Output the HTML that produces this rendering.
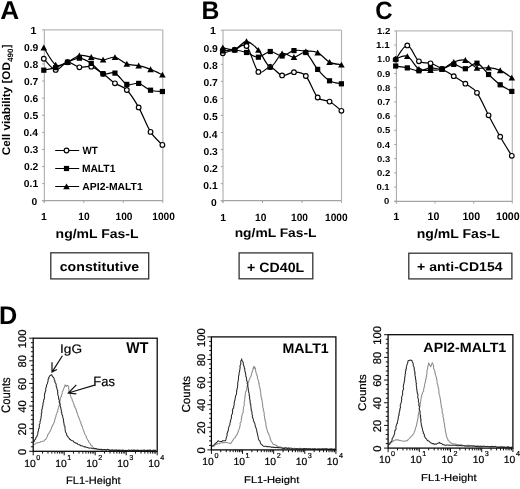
<!DOCTYPE html>
<html><head><meta charset="utf-8"><style>
html,body{margin:0;padding:0;background:#fff;}
svg{display:block;font-family:"Liberation Sans", sans-serif;will-change:transform;text-rendering:geometricPrecision;}
text[font-weight="normal"]{stroke:#000;stroke-width:0.2px;}
text:not([font-weight]){stroke:#000;stroke-width:0.2px;}
</style></head><body>
<svg width="520" height="489" viewBox="0 0 520 489">
<rect width="520" height="489" fill="#fff"/>
<line x1="44.30" y1="29.80" x2="162.80" y2="29.80" stroke="#bababa" stroke-width="1.20"/>
<line x1="162.80" y1="29.80" x2="162.80" y2="200.70" stroke="#b4b4b4" stroke-width="1.20"/>
<line x1="44.30" y1="29.80" x2="44.30" y2="202.90" stroke="#a4a4a4" stroke-width="1.00"/>
<line x1="42.10" y1="200.70" x2="162.80" y2="200.70" stroke="#a4a4a4" stroke-width="1.20"/>
<line x1="42.10" y1="200.70" x2="44.30" y2="200.70" stroke="#a4a4a4" stroke-width="1.00"/>
<line x1="42.10" y1="183.61" x2="44.30" y2="183.61" stroke="#a4a4a4" stroke-width="1.00"/>
<line x1="42.10" y1="166.52" x2="44.30" y2="166.52" stroke="#a4a4a4" stroke-width="1.00"/>
<line x1="42.10" y1="149.43" x2="44.30" y2="149.43" stroke="#a4a4a4" stroke-width="1.00"/>
<line x1="42.10" y1="132.34" x2="44.30" y2="132.34" stroke="#a4a4a4" stroke-width="1.00"/>
<line x1="42.10" y1="115.25" x2="44.30" y2="115.25" stroke="#a4a4a4" stroke-width="1.00"/>
<line x1="42.10" y1="98.16" x2="44.30" y2="98.16" stroke="#a4a4a4" stroke-width="1.00"/>
<line x1="42.10" y1="81.07" x2="44.30" y2="81.07" stroke="#a4a4a4" stroke-width="1.00"/>
<line x1="42.10" y1="63.98" x2="44.30" y2="63.98" stroke="#a4a4a4" stroke-width="1.00"/>
<line x1="42.10" y1="46.89" x2="44.30" y2="46.89" stroke="#a4a4a4" stroke-width="1.00"/>
<line x1="42.10" y1="29.80" x2="44.30" y2="29.80" stroke="#a4a4a4" stroke-width="1.00"/>
<line x1="44.30" y1="200.70" x2="44.30" y2="202.90" stroke="#a4a4a4" stroke-width="1.00"/>
<line x1="83.80" y1="200.70" x2="83.80" y2="202.90" stroke="#a4a4a4" stroke-width="1.00"/>
<line x1="123.30" y1="200.70" x2="123.30" y2="202.90" stroke="#a4a4a4" stroke-width="1.00"/>
<line x1="162.80" y1="200.70" x2="162.80" y2="202.90" stroke="#a4a4a4" stroke-width="1.00"/>
<text transform="translate(31.58 204.55) scale(1.0300 1)" font-size="10.03" font-weight="bold" fill="#000">0</text>
<text transform="translate(23.83 187.46) scale(1.0300 1)" font-size="10.03" font-weight="bold" fill="#000">0.1</text>
<text transform="translate(23.95 170.37) scale(1.0300 1)" font-size="10.03" font-weight="bold" fill="#000">0.2</text>
<text transform="translate(23.94 153.27) scale(1.0300 1)" font-size="10.01" font-weight="bold" fill="#000">0.3</text>
<text transform="translate(23.60 136.19) scale(1.0300 1)" font-size="10.03" font-weight="bold" fill="#000">0.4</text>
<text transform="translate(23.83 119.10) scale(1.0300 1)" font-size="10.03" font-weight="bold" fill="#000">0.5</text>
<text transform="translate(23.91 102.01) scale(1.0300 1)" font-size="10.03" font-weight="bold" fill="#000">0.6</text>
<text transform="translate(24.00 84.92) scale(1.0300 1)" font-size="10.03" font-weight="bold" fill="#000">0.7</text>
<text transform="translate(23.86 67.83) scale(1.0300 1)" font-size="10.03" font-weight="bold" fill="#000">0.8</text>
<text transform="translate(23.92 50.74) scale(1.0300 1)" font-size="10.03" font-weight="bold" fill="#000">0.9</text>
<text transform="translate(30.48 33.75) scale(1.0300 1)" font-size="10.32" font-weight="bold" fill="#000">1</text>
<text transform="translate(41.00 219.60) scale(1.0300 1)" font-size="10.17" font-weight="bold" fill="#000">1</text>
<text transform="translate(78.22 219.50) scale(0.9613 1)" font-size="10.59" font-weight="bold" fill="#000">10</text>
<text transform="translate(115.49 219.50) scale(0.9613 1)" font-size="10.59" font-weight="bold" fill="#000">100</text>
<text transform="translate(152.26 219.50) scale(0.9613 1)" font-size="10.59" font-weight="bold" fill="#000">1000</text>
<path d="M43.80 58.70 C45.78 60.57 51.71 69.32 55.66 69.90 C59.61 70.48 63.57 62.63 67.52 62.20 C71.47 61.77 75.43 66.55 79.38 67.30 C83.33 68.05 87.29 65.62 91.24 66.70 C95.19 67.78 99.15 71.03 103.10 73.80 C107.05 76.57 111.01 80.60 114.96 83.30 C118.91 86.00 122.87 85.98 126.82 90.00 C130.77 94.02 134.73 100.42 138.68 107.40 C142.63 114.38 146.59 125.65 150.54 131.90 C154.49 138.15 160.42 142.73 162.40 144.90" fill="none" stroke="#000" stroke-width="1.2"/>
<path d="M43.80 70.20 C45.78 69.77 51.71 68.93 55.66 67.60 C59.61 66.27 63.57 63.77 67.52 62.20 C71.47 60.63 75.43 58.00 79.38 58.20 C83.33 58.40 87.29 60.80 91.24 63.40 C95.19 66.00 99.15 72.18 103.10 73.80 C107.05 75.42 111.01 71.33 114.96 73.10 C118.91 74.87 122.87 82.68 126.82 84.40 C130.77 86.12 134.73 82.43 138.68 83.40 C142.63 84.37 146.59 88.85 150.54 90.20 C154.49 91.55 160.42 91.28 162.40 91.50" fill="none" stroke="#000" stroke-width="1.2"/>
<path d="M43.80 47.70 C45.78 50.55 51.71 62.38 55.66 64.80 C59.61 67.22 63.57 63.75 67.52 62.20 C71.47 60.65 75.43 56.35 79.38 55.50 C83.33 54.65 87.29 56.38 91.24 57.10 C95.19 57.82 99.15 59.77 103.10 59.80 C107.05 59.83 111.01 56.62 114.96 57.30 C118.91 57.98 122.87 62.50 126.82 63.90 C130.77 65.30 134.73 64.78 138.68 65.70 C142.63 66.62 146.59 67.88 150.54 69.40 C154.49 70.92 160.42 73.90 162.40 74.80" fill="none" stroke="#000" stroke-width="1.2"/>
<circle cx="43.80" cy="58.70" r="2.35" fill="#fff" stroke="#000" stroke-width="1.15"/>
<circle cx="55.66" cy="69.90" r="2.35" fill="#fff" stroke="#000" stroke-width="1.15"/>
<circle cx="67.52" cy="62.20" r="2.35" fill="#fff" stroke="#000" stroke-width="1.15"/>
<circle cx="79.38" cy="67.30" r="2.35" fill="#fff" stroke="#000" stroke-width="1.15"/>
<circle cx="91.24" cy="66.70" r="2.35" fill="#fff" stroke="#000" stroke-width="1.15"/>
<circle cx="103.10" cy="73.80" r="2.35" fill="#fff" stroke="#000" stroke-width="1.15"/>
<circle cx="114.96" cy="83.30" r="2.35" fill="#fff" stroke="#000" stroke-width="1.15"/>
<circle cx="126.82" cy="90.00" r="2.35" fill="#fff" stroke="#000" stroke-width="1.15"/>
<circle cx="138.68" cy="107.40" r="2.35" fill="#fff" stroke="#000" stroke-width="1.15"/>
<circle cx="150.54" cy="131.90" r="2.35" fill="#fff" stroke="#000" stroke-width="1.15"/>
<circle cx="162.40" cy="144.90" r="2.35" fill="#fff" stroke="#000" stroke-width="1.15"/>
<rect x="41.20" y="67.60" width="5.2" height="5.2" fill="#000"/>
<rect x="53.06" y="65.00" width="5.2" height="5.2" fill="#000"/>
<rect x="64.92" y="59.60" width="5.2" height="5.2" fill="#000"/>
<rect x="76.78" y="55.60" width="5.2" height="5.2" fill="#000"/>
<rect x="88.64" y="60.80" width="5.2" height="5.2" fill="#000"/>
<rect x="100.50" y="71.20" width="5.2" height="5.2" fill="#000"/>
<rect x="112.36" y="70.50" width="5.2" height="5.2" fill="#000"/>
<rect x="124.22" y="81.80" width="5.2" height="5.2" fill="#000"/>
<rect x="136.08" y="80.80" width="5.2" height="5.2" fill="#000"/>
<rect x="147.94" y="87.60" width="5.2" height="5.2" fill="#000"/>
<rect x="159.80" y="88.90" width="5.2" height="5.2" fill="#000"/>
<path d="M43.80 44.60 L47.10 50.50 L40.50 50.50 Z" fill="#000"/>
<path d="M55.66 61.70 L58.96 67.60 L52.36 67.60 Z" fill="#000"/>
<path d="M67.52 59.10 L70.82 65.00 L64.22 65.00 Z" fill="#000"/>
<path d="M79.38 52.40 L82.68 58.30 L76.08 58.30 Z" fill="#000"/>
<path d="M91.24 54.00 L94.54 59.90 L87.94 59.90 Z" fill="#000"/>
<path d="M103.10 56.70 L106.40 62.60 L99.80 62.60 Z" fill="#000"/>
<path d="M114.96 54.20 L118.26 60.10 L111.66 60.10 Z" fill="#000"/>
<path d="M126.82 60.80 L130.12 66.70 L123.52 66.70 Z" fill="#000"/>
<path d="M138.68 62.60 L141.98 68.50 L135.38 68.50 Z" fill="#000"/>
<path d="M150.54 66.30 L153.84 72.20 L147.24 72.20 Z" fill="#000"/>
<path d="M162.40 71.70 L165.70 77.60 L159.10 77.60 Z" fill="#000"/>
<text transform="translate(55.58 237.60) scale(1.1031 1)" font-size="12.70" font-weight="bold" fill="#000">ng/mL Fas-L</text>
<rect x="50.80" y="252.80" width="97.90" height="26.10" fill="none" stroke="#333" stroke-width="1.3"/>
<text transform="translate(59.75 271.30) scale(1.1029 1)" font-size="12.83" font-weight="bold" fill="#000">constitutive</text>
<text transform="translate(0.25 18.70) scale(1.0140 1)" font-size="25.87" font-weight="bold" fill="#000">A</text>
<line x1="55.20" y1="150.50" x2="79.20" y2="150.50" stroke="#000" stroke-width="1.00"/>
<circle cx="66.50" cy="150.50" r="2.35" fill="#fff" stroke="#000" stroke-width="1.15"/>
<text transform="translate(82.59 154.10) scale(0.9351 1)" font-size="10.47" font-weight="bold" fill="#000">WT</text>
<line x1="55.20" y1="168.50" x2="79.20" y2="168.50" stroke="#000" stroke-width="1.00"/>
<rect x="63.90" y="165.90" width="5.2" height="5.2" fill="#000"/>
<text transform="translate(81.91 172.10) scale(0.9797 1)" font-size="10.47" font-weight="bold" fill="#000">MALT1</text>
<line x1="55.20" y1="186.50" x2="79.20" y2="186.50" stroke="#000" stroke-width="1.00"/>
<path d="M66.50 183.40 L69.80 189.30 L63.20 189.30 Z" fill="#000"/>
<text transform="translate(82.34 190.10) scale(1.0086 1)" font-size="10.31" font-weight="bold" fill="#000">API2-MALT1</text>
<line x1="223.00" y1="30.20" x2="341.50" y2="30.20" stroke="#bababa" stroke-width="1.20"/>
<line x1="341.50" y1="30.20" x2="341.50" y2="200.70" stroke="#b4b4b4" stroke-width="1.20"/>
<line x1="223.00" y1="30.20" x2="223.00" y2="202.90" stroke="#a4a4a4" stroke-width="1.00"/>
<line x1="220.80" y1="200.70" x2="341.50" y2="200.70" stroke="#a4a4a4" stroke-width="1.20"/>
<line x1="220.80" y1="200.70" x2="223.00" y2="200.70" stroke="#a4a4a4" stroke-width="1.00"/>
<line x1="220.80" y1="183.65" x2="223.00" y2="183.65" stroke="#a4a4a4" stroke-width="1.00"/>
<line x1="220.80" y1="166.60" x2="223.00" y2="166.60" stroke="#a4a4a4" stroke-width="1.00"/>
<line x1="220.80" y1="149.55" x2="223.00" y2="149.55" stroke="#a4a4a4" stroke-width="1.00"/>
<line x1="220.80" y1="132.50" x2="223.00" y2="132.50" stroke="#a4a4a4" stroke-width="1.00"/>
<line x1="220.80" y1="115.45" x2="223.00" y2="115.45" stroke="#a4a4a4" stroke-width="1.00"/>
<line x1="220.80" y1="98.40" x2="223.00" y2="98.40" stroke="#a4a4a4" stroke-width="1.00"/>
<line x1="220.80" y1="81.35" x2="223.00" y2="81.35" stroke="#a4a4a4" stroke-width="1.00"/>
<line x1="220.80" y1="64.30" x2="223.00" y2="64.30" stroke="#a4a4a4" stroke-width="1.00"/>
<line x1="220.80" y1="47.25" x2="223.00" y2="47.25" stroke="#a4a4a4" stroke-width="1.00"/>
<line x1="220.80" y1="30.20" x2="223.00" y2="30.20" stroke="#a4a4a4" stroke-width="1.00"/>
<line x1="223.00" y1="200.70" x2="223.00" y2="202.90" stroke="#a4a4a4" stroke-width="1.00"/>
<line x1="262.50" y1="200.70" x2="262.50" y2="202.90" stroke="#a4a4a4" stroke-width="1.00"/>
<line x1="302.00" y1="200.70" x2="302.00" y2="202.90" stroke="#a4a4a4" stroke-width="1.00"/>
<line x1="341.50" y1="200.70" x2="341.50" y2="202.90" stroke="#a4a4a4" stroke-width="1.00"/>
<text transform="translate(210.88 206.30) scale(1.0300 1)" font-size="10.03" font-weight="bold" fill="#000">0</text>
<text transform="translate(203.33 189.10) scale(1.0300 1)" font-size="10.03" font-weight="bold" fill="#000">0.1</text>
<text transform="translate(203.45 171.90) scale(1.0300 1)" font-size="10.03" font-weight="bold" fill="#000">0.2</text>
<text transform="translate(203.44 154.69) scale(1.0300 1)" font-size="10.01" font-weight="bold" fill="#000">0.3</text>
<text transform="translate(203.10 137.50) scale(1.0300 1)" font-size="10.03" font-weight="bold" fill="#000">0.4</text>
<text transform="translate(203.33 120.30) scale(1.0300 1)" font-size="10.03" font-weight="bold" fill="#000">0.5</text>
<text transform="translate(203.41 103.10) scale(1.0300 1)" font-size="10.03" font-weight="bold" fill="#000">0.6</text>
<text transform="translate(203.50 85.90) scale(1.0300 1)" font-size="10.03" font-weight="bold" fill="#000">0.7</text>
<text transform="translate(203.36 68.70) scale(1.0300 1)" font-size="10.03" font-weight="bold" fill="#000">0.8</text>
<text transform="translate(203.42 51.50) scale(1.0300 1)" font-size="10.03" font-weight="bold" fill="#000">0.9</text>
<text transform="translate(209.98 34.40) scale(1.0300 1)" font-size="10.32" font-weight="bold" fill="#000">1</text>
<text transform="translate(220.30 220.80) scale(1.0300 1)" font-size="10.17" font-weight="bold" fill="#000">1</text>
<text transform="translate(255.12 220.70) scale(0.9613 1)" font-size="10.59" font-weight="bold" fill="#000">10</text>
<text transform="translate(290.99 220.70) scale(0.9613 1)" font-size="10.59" font-weight="bold" fill="#000">100</text>
<text transform="translate(325.06 220.70) scale(0.9613 1)" font-size="10.59" font-weight="bold" fill="#000">1000</text>
<path d="M222.80 53.30 C224.78 52.72 230.71 51.02 234.66 49.80 C238.61 48.58 242.57 42.32 246.52 46.00 C250.47 49.68 254.43 68.40 258.38 71.90 C262.33 75.40 266.29 66.42 270.24 67.00 C274.19 67.58 278.15 74.53 282.10 75.40 C286.05 76.27 290.01 72.10 293.96 72.20 C297.91 72.30 301.87 71.78 305.82 76.00 C309.77 80.22 313.73 93.23 317.68 97.50 C321.63 101.77 325.59 99.38 329.54 101.60 C333.49 103.82 339.42 109.27 341.40 110.80" fill="none" stroke="#000" stroke-width="1.2"/>
<path d="M222.80 51.00 C224.78 50.83 230.71 49.75 234.66 50.00 C238.61 50.25 242.57 51.30 246.52 52.50 C250.47 53.70 254.43 57.37 258.38 57.20 C262.33 57.03 266.29 51.70 270.24 51.50 C274.19 51.30 278.15 56.15 282.10 56.00 C286.05 55.85 290.01 51.18 293.96 50.60 C297.91 50.02 301.87 49.37 305.82 52.50 C309.77 55.63 313.73 64.68 317.68 69.40 C321.63 74.12 325.59 78.40 329.54 80.80 C333.49 83.20 339.42 83.30 341.40 83.80" fill="none" stroke="#000" stroke-width="1.2"/>
<path d="M222.80 47.60 C224.78 47.92 230.71 50.55 234.66 49.50 C238.61 48.45 242.57 41.22 246.52 41.30 C250.47 41.38 254.43 45.77 258.38 50.00 C262.33 54.23 266.29 66.12 270.24 66.70 C274.19 67.28 278.15 55.08 282.10 53.50 C286.05 51.92 290.01 57.53 293.96 57.20 C297.91 56.87 301.87 52.27 305.82 51.50 C309.77 50.73 313.73 50.83 317.68 52.60 C321.63 54.37 325.59 60.07 329.54 62.10 C333.49 64.13 339.42 64.35 341.40 64.80" fill="none" stroke="#000" stroke-width="1.2"/>
<circle cx="222.80" cy="53.30" r="2.35" fill="#fff" stroke="#000" stroke-width="1.15"/>
<circle cx="234.66" cy="49.80" r="2.35" fill="#fff" stroke="#000" stroke-width="1.15"/>
<circle cx="246.52" cy="46.00" r="2.35" fill="#fff" stroke="#000" stroke-width="1.15"/>
<circle cx="258.38" cy="71.90" r="2.35" fill="#fff" stroke="#000" stroke-width="1.15"/>
<circle cx="270.24" cy="67.00" r="2.35" fill="#fff" stroke="#000" stroke-width="1.15"/>
<circle cx="282.10" cy="75.40" r="2.35" fill="#fff" stroke="#000" stroke-width="1.15"/>
<circle cx="293.96" cy="72.20" r="2.35" fill="#fff" stroke="#000" stroke-width="1.15"/>
<circle cx="305.82" cy="76.00" r="2.35" fill="#fff" stroke="#000" stroke-width="1.15"/>
<circle cx="317.68" cy="97.50" r="2.35" fill="#fff" stroke="#000" stroke-width="1.15"/>
<circle cx="329.54" cy="101.60" r="2.35" fill="#fff" stroke="#000" stroke-width="1.15"/>
<circle cx="341.40" cy="110.80" r="2.35" fill="#fff" stroke="#000" stroke-width="1.15"/>
<rect x="220.20" y="48.40" width="5.2" height="5.2" fill="#000"/>
<rect x="232.06" y="47.40" width="5.2" height="5.2" fill="#000"/>
<rect x="243.92" y="49.90" width="5.2" height="5.2" fill="#000"/>
<rect x="255.78" y="54.60" width="5.2" height="5.2" fill="#000"/>
<rect x="267.64" y="48.90" width="5.2" height="5.2" fill="#000"/>
<rect x="279.50" y="53.40" width="5.2" height="5.2" fill="#000"/>
<rect x="291.36" y="48.00" width="5.2" height="5.2" fill="#000"/>
<rect x="303.22" y="49.90" width="5.2" height="5.2" fill="#000"/>
<rect x="315.08" y="66.80" width="5.2" height="5.2" fill="#000"/>
<rect x="326.94" y="78.20" width="5.2" height="5.2" fill="#000"/>
<rect x="338.80" y="81.20" width="5.2" height="5.2" fill="#000"/>
<path d="M222.80 44.50 L226.10 50.40 L219.50 50.40 Z" fill="#000"/>
<path d="M234.66 46.40 L237.96 52.30 L231.36 52.30 Z" fill="#000"/>
<path d="M246.52 38.20 L249.82 44.10 L243.22 44.10 Z" fill="#000"/>
<path d="M258.38 46.90 L261.68 52.80 L255.08 52.80 Z" fill="#000"/>
<path d="M270.24 63.60 L273.54 69.50 L266.94 69.50 Z" fill="#000"/>
<path d="M282.10 50.40 L285.40 56.30 L278.80 56.30 Z" fill="#000"/>
<path d="M293.96 54.10 L297.26 60.00 L290.66 60.00 Z" fill="#000"/>
<path d="M305.82 48.40 L309.12 54.30 L302.52 54.30 Z" fill="#000"/>
<path d="M317.68 49.50 L320.98 55.40 L314.38 55.40 Z" fill="#000"/>
<path d="M329.54 59.00 L332.84 64.90 L326.24 64.90 Z" fill="#000"/>
<path d="M341.40 61.70 L344.70 67.60 L338.10 67.60 Z" fill="#000"/>
<text transform="translate(234.69 237.30) scale(1.1003 1)" font-size="12.56" font-weight="bold" fill="#000">ng/mL Fas-L</text>
<rect x="239.10" y="252.90" width="73.70" height="25.90" fill="none" stroke="#333" stroke-width="1.3"/>
<text transform="translate(247.11 271.50) scale(1.0403 1)" font-size="13.61" font-weight="bold" fill="#000">+ CD40L</text>
<text transform="translate(201.44 18.50) scale(0.9679 1)" font-size="25.58" font-weight="bold" fill="#000">B</text>
<line x1="396.40" y1="30.90" x2="512.30" y2="30.90" stroke="#bababa" stroke-width="1.20"/>
<line x1="512.30" y1="30.90" x2="512.30" y2="201.30" stroke="#b4b4b4" stroke-width="1.20"/>
<line x1="396.40" y1="30.90" x2="396.40" y2="203.50" stroke="#a4a4a4" stroke-width="1.00"/>
<line x1="394.20" y1="201.30" x2="512.30" y2="201.30" stroke="#a4a4a4" stroke-width="1.20"/>
<line x1="394.20" y1="201.30" x2="396.40" y2="201.30" stroke="#a4a4a4" stroke-width="1.00"/>
<line x1="394.20" y1="187.10" x2="396.40" y2="187.10" stroke="#a4a4a4" stroke-width="1.00"/>
<line x1="394.20" y1="172.90" x2="396.40" y2="172.90" stroke="#a4a4a4" stroke-width="1.00"/>
<line x1="394.20" y1="158.70" x2="396.40" y2="158.70" stroke="#a4a4a4" stroke-width="1.00"/>
<line x1="394.20" y1="144.50" x2="396.40" y2="144.50" stroke="#a4a4a4" stroke-width="1.00"/>
<line x1="394.20" y1="130.30" x2="396.40" y2="130.30" stroke="#a4a4a4" stroke-width="1.00"/>
<line x1="394.20" y1="116.10" x2="396.40" y2="116.10" stroke="#a4a4a4" stroke-width="1.00"/>
<line x1="394.20" y1="101.90" x2="396.40" y2="101.90" stroke="#a4a4a4" stroke-width="1.00"/>
<line x1="394.20" y1="87.70" x2="396.40" y2="87.70" stroke="#a4a4a4" stroke-width="1.00"/>
<line x1="394.20" y1="73.50" x2="396.40" y2="73.50" stroke="#a4a4a4" stroke-width="1.00"/>
<line x1="394.20" y1="59.30" x2="396.40" y2="59.30" stroke="#a4a4a4" stroke-width="1.00"/>
<line x1="394.20" y1="45.10" x2="396.40" y2="45.10" stroke="#a4a4a4" stroke-width="1.00"/>
<line x1="394.20" y1="30.90" x2="396.40" y2="30.90" stroke="#a4a4a4" stroke-width="1.00"/>
<line x1="396.40" y1="201.30" x2="396.40" y2="203.50" stroke="#a4a4a4" stroke-width="1.00"/>
<line x1="435.03" y1="201.30" x2="435.03" y2="203.50" stroke="#a4a4a4" stroke-width="1.00"/>
<line x1="473.67" y1="201.30" x2="473.67" y2="203.50" stroke="#a4a4a4" stroke-width="1.00"/>
<line x1="512.30" y1="201.30" x2="512.30" y2="203.50" stroke="#a4a4a4" stroke-width="1.00"/>
<text transform="translate(384.12 204.47) scale(1.1000 1)" font-size="8.62" font-weight="bold" fill="#000">0</text>
<text transform="translate(376.39 190.27) scale(1.1000 1)" font-size="8.62" font-weight="bold" fill="#000">0.1</text>
<text transform="translate(377.10 176.07) scale(1.1000 1)" font-size="8.62" font-weight="bold" fill="#000">0.2</text>
<text transform="translate(377.09 161.85) scale(1.1000 1)" font-size="8.60" font-weight="bold" fill="#000">0.3</text>
<text transform="translate(376.78 147.67) scale(1.1000 1)" font-size="8.62" font-weight="bold" fill="#000">0.4</text>
<text transform="translate(376.99 133.47) scale(1.1000 1)" font-size="8.62" font-weight="bold" fill="#000">0.5</text>
<text transform="translate(377.07 119.27) scale(1.1000 1)" font-size="8.62" font-weight="bold" fill="#000">0.6</text>
<text transform="translate(377.14 105.07) scale(1.1000 1)" font-size="8.62" font-weight="bold" fill="#000">0.7</text>
<text transform="translate(377.02 90.87) scale(1.1000 1)" font-size="8.62" font-weight="bold" fill="#000">0.8</text>
<text transform="translate(377.08 76.67) scale(1.1000 1)" font-size="8.62" font-weight="bold" fill="#000">0.9</text>
<text transform="translate(377.11 62.47) scale(1.1000 1)" font-size="8.62" font-weight="bold" fill="#000">1.0</text>
<text transform="translate(376.01 48.35) scale(1.1000 1)" font-size="8.87" font-weight="bold" fill="#000">1.1</text>
<text transform="translate(376.93 34.15) scale(1.1000 1)" font-size="8.74" font-weight="bold" fill="#000">1.2</text>
<text transform="translate(393.37 219.90) scale(1.0300 1)" font-size="10.61" font-weight="bold" fill="#000">1</text>
<text transform="translate(427.58 219.79) scale(0.9640 1)" font-size="11.02" font-weight="bold" fill="#000">10</text>
<text transform="translate(462.42 219.79) scale(0.9640 1)" font-size="11.02" font-weight="bold" fill="#000">100</text>
<text transform="translate(495.97 219.79) scale(0.9640 1)" font-size="11.02" font-weight="bold" fill="#000">1000</text>
<path d="M395.70 59.50 C397.63 57.15 403.44 45.10 407.31 45.40 C411.18 45.70 415.05 58.32 418.92 61.30 C422.79 64.28 426.66 62.02 430.53 63.30 C434.40 64.58 438.27 66.85 442.14 69.00 C446.01 71.15 449.88 73.75 453.75 76.20 C457.62 78.65 461.49 80.93 465.36 83.70 C469.23 86.47 473.10 87.53 476.97 92.80 C480.84 98.07 484.71 107.98 488.58 115.30 C492.45 122.62 496.32 129.95 500.19 136.70 C504.06 143.45 509.87 152.62 511.80 155.80" fill="none" stroke="#000" stroke-width="1.2"/>
<path d="M395.70 66.00 C397.63 66.32 403.44 67.10 407.31 67.90 C411.18 68.70 415.05 70.80 418.92 70.80 C422.79 70.80 426.66 68.20 430.53 67.90 C434.40 67.60 438.27 69.58 442.14 69.00 C446.01 68.42 449.88 64.45 453.75 64.40 C457.62 64.35 461.49 68.90 465.36 68.70 C469.23 68.50 473.10 62.23 476.97 63.20 C480.84 64.17 484.71 70.90 488.58 74.50 C492.45 78.10 496.32 81.98 500.19 84.80 C504.06 87.62 509.87 90.30 511.80 91.40" fill="none" stroke="#000" stroke-width="1.2"/>
<path d="M395.70 58.80 C397.63 58.38 403.44 54.60 407.31 56.30 C411.18 58.00 415.05 66.68 418.92 69.00 C422.79 71.32 426.66 70.20 430.53 70.20 C434.40 70.20 438.27 70.37 442.14 69.00 C446.01 67.63 449.88 63.48 453.75 62.00 C457.62 60.52 461.49 59.10 465.36 60.10 C469.23 61.10 473.10 66.75 476.97 68.00 C480.84 69.25 484.71 67.20 488.58 67.60 C492.45 68.00 496.32 68.70 500.19 70.40 C504.06 72.10 509.87 76.57 511.80 77.80" fill="none" stroke="#000" stroke-width="1.2"/>
<circle cx="395.70" cy="59.50" r="2.35" fill="#fff" stroke="#000" stroke-width="1.15"/>
<circle cx="407.31" cy="45.40" r="2.35" fill="#fff" stroke="#000" stroke-width="1.15"/>
<circle cx="418.92" cy="61.30" r="2.35" fill="#fff" stroke="#000" stroke-width="1.15"/>
<circle cx="430.53" cy="63.30" r="2.35" fill="#fff" stroke="#000" stroke-width="1.15"/>
<circle cx="442.14" cy="69.00" r="2.35" fill="#fff" stroke="#000" stroke-width="1.15"/>
<circle cx="453.75" cy="76.20" r="2.35" fill="#fff" stroke="#000" stroke-width="1.15"/>
<circle cx="465.36" cy="83.70" r="2.35" fill="#fff" stroke="#000" stroke-width="1.15"/>
<circle cx="476.97" cy="92.80" r="2.35" fill="#fff" stroke="#000" stroke-width="1.15"/>
<circle cx="488.58" cy="115.30" r="2.35" fill="#fff" stroke="#000" stroke-width="1.15"/>
<circle cx="500.19" cy="136.70" r="2.35" fill="#fff" stroke="#000" stroke-width="1.15"/>
<circle cx="511.80" cy="155.80" r="2.35" fill="#fff" stroke="#000" stroke-width="1.15"/>
<rect x="393.10" y="63.40" width="5.2" height="5.2" fill="#000"/>
<rect x="404.71" y="65.30" width="5.2" height="5.2" fill="#000"/>
<rect x="416.32" y="68.20" width="5.2" height="5.2" fill="#000"/>
<rect x="427.93" y="65.30" width="5.2" height="5.2" fill="#000"/>
<rect x="439.54" y="66.40" width="5.2" height="5.2" fill="#000"/>
<rect x="451.15" y="61.80" width="5.2" height="5.2" fill="#000"/>
<rect x="462.76" y="66.10" width="5.2" height="5.2" fill="#000"/>
<rect x="474.37" y="60.60" width="5.2" height="5.2" fill="#000"/>
<rect x="485.98" y="71.90" width="5.2" height="5.2" fill="#000"/>
<rect x="497.59" y="82.20" width="5.2" height="5.2" fill="#000"/>
<rect x="509.20" y="88.80" width="5.2" height="5.2" fill="#000"/>
<path d="M395.70 55.70 L399.00 61.60 L392.40 61.60 Z" fill="#000"/>
<path d="M407.31 53.20 L410.61 59.10 L404.01 59.10 Z" fill="#000"/>
<path d="M418.92 65.90 L422.22 71.80 L415.62 71.80 Z" fill="#000"/>
<path d="M430.53 67.10 L433.83 73.00 L427.23 73.00 Z" fill="#000"/>
<path d="M442.14 65.90 L445.44 71.80 L438.84 71.80 Z" fill="#000"/>
<path d="M453.75 58.90 L457.05 64.80 L450.45 64.80 Z" fill="#000"/>
<path d="M465.36 57.00 L468.66 62.90 L462.06 62.90 Z" fill="#000"/>
<path d="M476.97 64.90 L480.27 70.80 L473.67 70.80 Z" fill="#000"/>
<path d="M488.58 64.50 L491.88 70.40 L485.28 70.40 Z" fill="#000"/>
<path d="M500.19 67.30 L503.49 73.20 L496.89 73.20 Z" fill="#000"/>
<path d="M511.80 74.70 L515.10 80.60 L508.50 80.60 Z" fill="#000"/>
<text transform="translate(416.77 237.50) scale(1.0939 1)" font-size="12.83" font-weight="bold" fill="#000">ng/mL Fas-L</text>
<rect x="408.80" y="253.20" width="103.10" height="25.70" fill="none" stroke="#333" stroke-width="1.3"/>
<text transform="translate(417.11 271.20) scale(1.1061 1)" font-size="12.70" font-weight="bold" fill="#000">+ anti-CD154</text>
<text transform="translate(375.22 18.50) scale(0.9527 1)" font-size="25.21" font-weight="bold" fill="#000">C</text>
<text transform="translate(9.60 155.18) rotate(-90) scale(1.0469 1)" font-size="11.20" font-weight="bold">Cell viability [OD</text>
<text transform="translate(12.60 62.02) rotate(-90) scale(1.0258 1)" font-size="7.80" font-weight="bold">490</text>
<text transform="translate(9.60 47.92) rotate(-90) scale(0.9109 1)" font-size="11.20" font-weight="bold">]</text>
<path d="M33.60 444.50 L34.42 444.35 L35.66 443.70 L36.35 442.94 L37.21 443.00 L38.28 442.59 L39.12 442.46 L40.16 442.27 L40.93 441.69 L41.33 441.56 L42.59 441.34 L43.58 441.15 L44.31 440.80 L44.84 439.76 L45.83 439.18 L46.26 438.43 L46.89 437.47 L47.41 436.23 L47.59 435.39 L47.79 434.62 L48.58 433.93 L49.22 432.89 L49.23 432.12 L50.11 431.62 L50.34 430.73 L51.04 429.43 L51.44 428.47 L51.32 428.08 L51.70 426.96 L52.53 426.12 L52.70 425.10 L52.92 424.44 L53.78 423.92 L53.93 422.49 L54.11 422.05 L54.73 420.94 L54.74 420.39 L54.93 419.24 L55.24 418.40 L55.79 416.83 L55.96 416.11 L56.05 414.98 L56.44 414.55 L56.86 413.17 L57.00 412.21 L57.77 411.60 L57.74 410.13 L58.01 409.23 L58.21 408.74 L58.68 407.42 L58.82 406.36 L58.98 405.88 L59.58 404.82 L59.68 403.85 L59.96 402.85 L59.91 401.44 L60.16 400.49 L60.19 400.15 L60.20 398.94 L60.70 397.72 L60.72 397.05 L61.54 396.24 L61.42 394.98 L61.85 394.24 L62.32 393.50 L62.15 392.49 L62.35 391.41 L63.09 390.68 L63.39 389.54 L63.73 388.61 L64.24 387.51 L64.45 386.53 L65.02 385.59 L64.87 384.89 L66.05 385.52 L66.03 386.58 L67.19 385.51 L67.58 385.25 L68.50 386.30 L68.75 386.84 L68.56 388.26 L68.88 389.00 L68.88 389.61 L68.86 390.99 L68.91 391.96 L69.43 392.34 L69.89 393.40 L70.14 394.20 L70.51 395.22 L70.74 396.15 L70.94 396.91 L71.27 397.69 L72.15 398.97 L72.09 400.08 L72.36 400.65 L72.87 401.43 L73.10 402.20 L73.41 403.22 L73.80 404.39 L74.25 404.92 L74.24 406.19 L75.07 406.67 L74.92 407.61 L75.79 408.73 L76.09 409.31 L76.21 410.36 L76.55 410.76 L76.41 411.74 L77.40 413.14 L77.56 413.43 L77.67 414.25 L77.83 415.41 L78.45 416.37 L78.64 417.28 L79.13 418.31 L79.56 418.99 L79.69 419.55 L79.81 420.58 L80.24 421.31 L81.02 422.30 L80.71 423.68 L81.17 424.11 L81.55 425.40 L81.87 425.87 L82.44 426.86 L82.75 427.89 L82.77 428.63 L83.05 429.23 L83.62 430.19 L83.85 431.26 L84.23 432.33 L84.41 432.87 L84.65 433.99 L85.01 434.55 L85.52 435.28 L86.46 436.77 L86.26 437.59 L86.86 438.48 L87.27 438.98 L87.82 440.28 L88.36 440.57 L88.72 441.85 L89.20 442.57 L89.94 443.09 L90.41 444.28 L90.70 445.08 L91.12 445.27 L92.11 445.94 L92.89 447.30 L93.81 447.67 L94.17 448.88 L95.21 448.65 L96.39 448.93 L97.33 449.37 L98.28 449.16 L98.89 449.53 L100.10 449.59 L101.08 449.92 L102.05 449.89 L102.76 449.90 L103.64 449.74 L104.55 450.02 L105.45 449.94 L106.36 450.11 L107.27 449.50 L108.18 449.53 L109.09 449.76 L110.00 450.01 L110.91 450.08 L111.82 449.70 L112.73 450.55 L113.64 450.10 L114.55 449.85 L115.45 450.35 L116.36 449.93 L117.27 450.14 L118.18 450.19 L119.09 449.91 L120.00 449.99 L120.91 450.42 L121.82 450.60 L122.73 450.75 L123.64 450.22 L124.55 450.69 L125.45 450.54 L126.36 450.81 L127.27 450.40 L128.18 450.56 L129.09 450.41 L130.00 450.54 L130.93 450.84 L131.86 450.52 L132.79 450.09 L133.71 450.89 L134.64 450.55 L135.57 450.08 L136.50 450.32 L137.43 450.46 L138.36 450.08 L139.29 450.69 L140.21 450.53 L141.14 450.64 L142.07 450.62 L143.00 450.63 L143.93 450.03 L144.86 450.43 L145.79 450.58 L146.71 450.12 L147.64 450.20 L148.57 450.74 L149.50 450.44 L150.43 450.25 L151.36 450.48 L152.29 450.32 L153.21 450.38 L154.14 450.71 L155.07 450.11 L156.00 450.78" fill="none" stroke="#8e8e8e" stroke-width="1.05" stroke-linejoin="round" opacity="1.00"/>
<path d="M33.60 442.00 L34.59 440.85 L34.70 439.72 L35.45 439.36 L35.93 437.95 L36.00 437.42 L36.93 436.54 L36.92 436.01 L37.44 434.91 L37.73 434.14 L37.98 432.82 L37.82 432.08 L38.11 431.46 L38.55 430.48 L38.47 429.20 L39.10 428.41 L39.27 427.49 L39.44 426.35 L39.16 425.33 L39.34 424.77 L39.76 423.88 L40.13 422.78 L39.98 421.76 L40.40 420.61 L40.51 419.54 L40.92 419.02 L41.04 417.84 L41.04 416.62 L41.31 416.02 L41.40 415.23 L41.25 413.77 L41.73 412.81 L41.87 412.34 L41.75 411.04 L41.65 409.99 L41.98 409.25 L42.51 408.13 L42.25 407.45 L42.71 406.49 L42.70 405.19 L43.13 404.88 L42.96 403.73 L43.11 402.55 L43.77 401.65 L43.59 400.90 L43.61 399.78 L44.24 399.17 L44.32 398.26 L44.56 397.32 L44.38 396.01 L44.58 395.27 L44.51 394.37 L44.86 393.28 L45.05 392.51 L45.36 391.51 L45.82 390.48 L45.67 389.64 L45.80 388.10 L46.26 387.07 L46.71 386.38 L46.41 385.69 L46.74 384.68 L47.34 383.76 L47.60 382.49 L47.74 382.12 L48.08 380.76 L48.18 379.99 L47.99 379.29 L48.82 378.64 L48.61 377.87 L49.46 376.45 L49.50 375.95 L50.49 375.32 L51.69 374.67 L52.34 376.17 L52.90 376.79 L53.41 377.40 L54.25 378.53 L54.09 379.55 L54.29 379.98 L55.17 381.06 L54.82 381.91 L55.26 382.83 L56.03 383.79 L56.21 384.51 L56.06 386.09 L56.62 386.65 L56.62 387.66 L57.01 388.53 L57.15 389.85 L57.77 390.38 L57.50 391.59 L57.92 392.54 L57.62 393.25 L57.86 394.44 L57.94 395.21 L58.60 396.61 L58.61 396.94 L58.59 398.15 L58.56 398.82 L59.23 399.85 L59.51 401.09 L59.14 401.57 L59.29 402.66 L59.83 403.40 L60.29 404.51 L59.95 405.54 L60.43 406.40 L60.51 406.96 L61.00 408.47 L60.86 408.95 L61.18 409.98 L61.47 410.97 L61.19 412.04 L61.94 412.65 L61.81 413.80 L61.80 414.29 L62.59 415.64 L62.70 416.44 L62.79 417.35 L62.93 417.75 L63.35 418.76 L63.53 420.08 L63.26 420.56 L63.77 421.37 L63.62 422.28 L64.04 423.46 L64.13 424.42 L64.17 425.62 L64.86 426.17 L65.01 427.32 L64.90 428.42 L65.19 429.35 L65.16 429.79 L65.31 431.06 L65.63 432.23 L65.78 432.63 L66.55 433.51 L66.70 434.47 L66.58 435.22 L67.65 436.26 L68.11 437.33 L68.77 437.93 L69.42 438.56 L69.85 439.43 L70.60 439.55 L71.14 440.50 L72.31 440.67 L73.31 441.08 L73.79 441.96 L74.55 442.46 L75.23 442.71 L76.05 443.26 L77.35 443.38 L77.74 444.38 L79.06 444.85 L79.90 444.83 L80.37 445.62 L81.76 445.66 L82.61 445.99 L83.29 446.41 L84.23 446.86 L85.44 446.69 L86.45 447.24 L87.48 447.46 L88.29 447.85 L89.30 448.24 L90.03 448.10 L91.00 448.03 L92.18 448.53 L93.09 448.67 L93.76 448.55 L95.28 448.55 L95.85 448.61 L97.09 449.09 L97.99 449.20 L98.70 449.33 L99.44 449.39 L100.97 449.58 L101.39 449.27 L102.26 449.83 L103.80 449.52 L104.54 449.46 L105.05 449.61 L106.27 450.11 L107.20 449.39 L108.13 449.47 L109.07 449.96 L110.00 450.45 L110.91 450.16 L111.82 450.11 L112.73 449.95 L113.64 450.14 L114.55 450.53 L115.45 450.33 L116.36 449.80 L117.27 450.56 L118.18 450.37 L119.09 450.21 L120.00 450.52 L120.91 450.14 L121.82 450.55 L122.73 449.92 L123.64 450.42 L124.55 450.40 L125.45 450.18 L126.36 450.56 L127.27 450.82 L128.18 450.08 L129.09 450.10 L130.00 450.40 L130.93 450.27 L131.86 450.13 L132.79 450.71 L133.71 450.00 L134.64 450.09 L135.57 450.83 L136.50 450.40 L137.43 450.04 L138.36 450.56 L139.29 450.41 L140.21 450.33 L141.14 450.29 L142.07 450.19 L143.00 450.30 L143.93 450.15 L144.86 450.13 L145.79 450.84 L146.71 450.52 L147.64 450.33 L148.57 450.57 L149.50 450.03 L150.43 450.02 L151.36 450.87 L152.29 450.80 L153.21 450.35 L154.14 450.15 L155.07 450.31 L156.00 450.53" fill="none" stroke="#2a2a2a" stroke-width="1.05" stroke-linejoin="round" opacity="1.00"/>
<rect x="33.20" y="338.20" width="124.00" height="113.10" fill="none" stroke="#000" stroke-width="1.25"/>
<line x1="29.20" y1="451.30" x2="33.20" y2="451.30" stroke="#111" stroke-width="1.00"/>
<line x1="30.90" y1="446.78" x2="33.20" y2="446.78" stroke="#111" stroke-width="1.00"/>
<line x1="30.90" y1="442.25" x2="33.20" y2="442.25" stroke="#111" stroke-width="1.00"/>
<line x1="30.90" y1="437.73" x2="33.20" y2="437.73" stroke="#111" stroke-width="1.00"/>
<line x1="30.90" y1="433.20" x2="33.20" y2="433.20" stroke="#111" stroke-width="1.00"/>
<line x1="29.20" y1="428.68" x2="33.20" y2="428.68" stroke="#111" stroke-width="1.00"/>
<line x1="30.90" y1="424.16" x2="33.20" y2="424.16" stroke="#111" stroke-width="1.00"/>
<line x1="30.90" y1="419.63" x2="33.20" y2="419.63" stroke="#111" stroke-width="1.00"/>
<line x1="30.90" y1="415.11" x2="33.20" y2="415.11" stroke="#111" stroke-width="1.00"/>
<line x1="30.90" y1="410.58" x2="33.20" y2="410.58" stroke="#111" stroke-width="1.00"/>
<line x1="29.20" y1="406.06" x2="33.20" y2="406.06" stroke="#111" stroke-width="1.00"/>
<line x1="30.90" y1="401.54" x2="33.20" y2="401.54" stroke="#111" stroke-width="1.00"/>
<line x1="30.90" y1="397.01" x2="33.20" y2="397.01" stroke="#111" stroke-width="1.00"/>
<line x1="30.90" y1="392.49" x2="33.20" y2="392.49" stroke="#111" stroke-width="1.00"/>
<line x1="30.90" y1="387.96" x2="33.20" y2="387.96" stroke="#111" stroke-width="1.00"/>
<line x1="29.20" y1="383.44" x2="33.20" y2="383.44" stroke="#111" stroke-width="1.00"/>
<line x1="30.90" y1="378.92" x2="33.20" y2="378.92" stroke="#111" stroke-width="1.00"/>
<line x1="30.90" y1="374.39" x2="33.20" y2="374.39" stroke="#111" stroke-width="1.00"/>
<line x1="30.90" y1="369.87" x2="33.20" y2="369.87" stroke="#111" stroke-width="1.00"/>
<line x1="30.90" y1="365.34" x2="33.20" y2="365.34" stroke="#111" stroke-width="1.00"/>
<line x1="29.20" y1="360.82" x2="33.20" y2="360.82" stroke="#111" stroke-width="1.00"/>
<line x1="30.90" y1="356.30" x2="33.20" y2="356.30" stroke="#111" stroke-width="1.00"/>
<line x1="30.90" y1="351.77" x2="33.20" y2="351.77" stroke="#111" stroke-width="1.00"/>
<line x1="30.90" y1="347.25" x2="33.20" y2="347.25" stroke="#111" stroke-width="1.00"/>
<line x1="30.90" y1="342.72" x2="33.20" y2="342.72" stroke="#111" stroke-width="1.00"/>
<line x1="29.20" y1="338.20" x2="33.20" y2="338.20" stroke="#111" stroke-width="1.00"/>
<line x1="33.20" y1="451.30" x2="33.20" y2="455.30" stroke="#111" stroke-width="1.00"/>
<line x1="42.53" y1="451.30" x2="42.53" y2="453.60" stroke="#111" stroke-width="1.00"/>
<line x1="47.99" y1="451.30" x2="47.99" y2="453.60" stroke="#111" stroke-width="1.00"/>
<line x1="51.86" y1="451.30" x2="51.86" y2="453.60" stroke="#111" stroke-width="1.00"/>
<line x1="54.87" y1="451.30" x2="54.87" y2="453.60" stroke="#111" stroke-width="1.00"/>
<line x1="57.32" y1="451.30" x2="57.32" y2="453.60" stroke="#111" stroke-width="1.00"/>
<line x1="59.40" y1="451.30" x2="59.40" y2="453.60" stroke="#111" stroke-width="1.00"/>
<line x1="61.20" y1="451.30" x2="61.20" y2="453.60" stroke="#111" stroke-width="1.00"/>
<line x1="62.78" y1="451.30" x2="62.78" y2="453.60" stroke="#111" stroke-width="1.00"/>
<line x1="64.20" y1="451.30" x2="64.20" y2="455.30" stroke="#111" stroke-width="1.00"/>
<line x1="73.53" y1="451.30" x2="73.53" y2="453.60" stroke="#111" stroke-width="1.00"/>
<line x1="78.99" y1="451.30" x2="78.99" y2="453.60" stroke="#111" stroke-width="1.00"/>
<line x1="82.86" y1="451.30" x2="82.86" y2="453.60" stroke="#111" stroke-width="1.00"/>
<line x1="85.87" y1="451.30" x2="85.87" y2="453.60" stroke="#111" stroke-width="1.00"/>
<line x1="88.32" y1="451.30" x2="88.32" y2="453.60" stroke="#111" stroke-width="1.00"/>
<line x1="90.40" y1="451.30" x2="90.40" y2="453.60" stroke="#111" stroke-width="1.00"/>
<line x1="92.20" y1="451.30" x2="92.20" y2="453.60" stroke="#111" stroke-width="1.00"/>
<line x1="93.78" y1="451.30" x2="93.78" y2="453.60" stroke="#111" stroke-width="1.00"/>
<line x1="95.20" y1="451.30" x2="95.20" y2="455.30" stroke="#111" stroke-width="1.00"/>
<line x1="104.53" y1="451.30" x2="104.53" y2="453.60" stroke="#111" stroke-width="1.00"/>
<line x1="109.99" y1="451.30" x2="109.99" y2="453.60" stroke="#111" stroke-width="1.00"/>
<line x1="113.86" y1="451.30" x2="113.86" y2="453.60" stroke="#111" stroke-width="1.00"/>
<line x1="116.87" y1="451.30" x2="116.87" y2="453.60" stroke="#111" stroke-width="1.00"/>
<line x1="119.32" y1="451.30" x2="119.32" y2="453.60" stroke="#111" stroke-width="1.00"/>
<line x1="121.40" y1="451.30" x2="121.40" y2="453.60" stroke="#111" stroke-width="1.00"/>
<line x1="123.20" y1="451.30" x2="123.20" y2="453.60" stroke="#111" stroke-width="1.00"/>
<line x1="124.78" y1="451.30" x2="124.78" y2="453.60" stroke="#111" stroke-width="1.00"/>
<line x1="126.20" y1="451.30" x2="126.20" y2="455.30" stroke="#111" stroke-width="1.00"/>
<line x1="135.53" y1="451.30" x2="135.53" y2="453.60" stroke="#111" stroke-width="1.00"/>
<line x1="140.99" y1="451.30" x2="140.99" y2="453.60" stroke="#111" stroke-width="1.00"/>
<line x1="144.86" y1="451.30" x2="144.86" y2="453.60" stroke="#111" stroke-width="1.00"/>
<line x1="147.87" y1="451.30" x2="147.87" y2="453.60" stroke="#111" stroke-width="1.00"/>
<line x1="150.32" y1="451.30" x2="150.32" y2="453.60" stroke="#111" stroke-width="1.00"/>
<line x1="152.40" y1="451.30" x2="152.40" y2="453.60" stroke="#111" stroke-width="1.00"/>
<line x1="154.20" y1="451.30" x2="154.20" y2="453.60" stroke="#111" stroke-width="1.00"/>
<line x1="155.78" y1="451.30" x2="155.78" y2="453.60" stroke="#111" stroke-width="1.00"/>
<line x1="157.20" y1="451.30" x2="157.20" y2="455.30" stroke="#111" stroke-width="1.00"/>
<text transform="translate(26.26 454.91) rotate(-90) scale(1.0000 1)" font-size="11.20" font-weight="normal" fill="#000">0</text>
<text transform="translate(26.26 435.47) rotate(-90) scale(1.0000 1)" font-size="11.20" font-weight="normal" fill="#000">20</text>
<text transform="translate(26.26 412.70) rotate(-90) scale(1.0000 1)" font-size="11.20" font-weight="normal" fill="#000">40</text>
<text transform="translate(26.26 390.23) rotate(-90) scale(1.0000 1)" font-size="11.20" font-weight="normal" fill="#000">60</text>
<text transform="translate(26.26 367.57) rotate(-90) scale(1.0000 1)" font-size="11.20" font-weight="normal" fill="#000">80</text>
<text transform="translate(26.26 348.25) rotate(-90) scale(1.0000 1)" font-size="11.20" font-weight="normal" fill="#000">100</text>
<text x="24.14" y="466.50" font-size="10.40">10</text>
<text x="36.20" y="459.50" font-size="7.20">0</text>
<text x="55.14" y="466.50" font-size="10.40">10</text>
<text x="67.20" y="459.50" font-size="7.20">1</text>
<text x="86.14" y="466.50" font-size="10.40">10</text>
<text x="98.20" y="459.50" font-size="7.20">2</text>
<text x="117.14" y="466.50" font-size="10.40">10</text>
<text x="129.20" y="459.50" font-size="7.20">3</text>
<text x="148.14" y="466.50" font-size="10.40">10</text>
<text x="160.20" y="459.50" font-size="7.20">4</text>
<text transform="translate(9.58 412.97) rotate(-90) scale(0.9164 1)" font-size="12.29" font-weight="normal" fill="#000">Counts</text>
<text transform="translate(66.09 484.40) scale(1.0384 1)" font-size="10.63" font-weight="normal" fill="#000">FL1-Height</text>
<text transform="translate(126.29 352.80) scale(0.9042 1)" font-size="15.70" font-weight="bold" fill="#000">WT</text>
<text transform="translate(60.04 352.60) scale(1.1070 1)" font-size="12.32" font-weight="normal" fill="#000">IgG</text>
<text transform="translate(93.34 385.60) scale(0.9553 1)" font-size="13.52" font-weight="normal" fill="#000">Fas</text>
<path d="M62.4 355.8 L52 372.1 M52 362.3 L52 372.1 L56.9 369.5" fill="none" stroke="#111" stroke-width="1.2"/>
<path d="M94.6 385.2 L68.3 393 M76.3 384.8 L68.3 393 L76.3 393.8" fill="none" stroke="#111" stroke-width="1.2"/>
<path d="M212.00 446.50 L213.09 446.40 L213.94 446.17 L214.77 445.62 L215.04 444.70 L216.06 444.34 L216.97 444.12 L217.89 443.52 L218.98 443.74 L219.97 443.15 L220.53 443.12 L221.58 442.73 L222.47 442.63 L223.33 442.48 L224.52 442.71 L225.13 442.47 L226.50 442.51 L227.63 442.84 L228.35 442.92 L229.08 442.96 L230.41 443.47 L231.47 442.65 L231.76 441.87 L232.39 441.06 L233.38 439.66 L233.80 438.67 L234.32 438.40 L235.43 437.34 L235.38 436.62 L236.45 435.47 L236.98 434.55 L237.35 434.29 L237.53 432.87 L238.10 432.38 L238.43 431.18 L238.27 430.06 L239.07 429.25 L239.40 428.45 L239.73 427.59 L239.62 426.51 L240.22 425.74 L240.23 424.41 L240.01 423.65 L240.16 422.99 L240.98 422.06 L241.11 421.32 L241.38 420.19 L241.36 419.39 L241.31 418.38 L241.83 417.63 L241.58 416.74 L242.03 415.50 L242.21 414.63 L242.23 413.70 L242.58 413.26 L243.27 412.52 L243.20 411.17 L243.11 410.28 L243.65 409.13 L243.42 408.58 L243.38 407.48 L243.97 406.15 L244.14 405.48 L244.11 404.76 L244.42 403.26 L244.11 402.40 L244.20 401.42 L244.76 400.56 L244.66 399.61 L244.64 398.72 L245.10 398.06 L244.74 396.63 L245.27 396.13 L245.25 394.92 L245.17 393.93 L245.32 393.36 L245.59 392.53 L245.69 391.55 L246.46 390.72 L246.75 389.26 L246.99 388.66 L246.72 387.70 L247.16 386.80 L247.18 385.64 L247.63 384.88 L248.08 384.09 L248.02 383.01 L248.50 382.35 L248.93 381.70 L248.70 380.49 L249.72 379.42 L249.75 378.78 L250.22 377.59 L250.70 376.76 L251.12 375.71 L251.46 374.73 L251.48 374.09 L251.68 373.06 L252.27 371.85 L252.58 370.75 L253.06 369.67 L252.89 368.94 L253.40 367.56 L253.64 366.45 L254.02 367.46 L254.09 368.60 L254.46 367.62 L254.59 366.73 L255.16 367.98 L255.52 369.25 L255.62 370.04 L255.65 371.29 L256.06 371.91 L255.96 372.99 L256.51 373.77 L257.05 375.19 L256.87 375.51 L257.50 376.35 L257.36 377.40 L257.53 378.34 L257.93 379.45 L258.25 380.26 L258.80 380.98 L258.52 382.00 L258.66 382.83 L259.46 383.86 L259.03 384.82 L259.30 385.93 L259.68 386.60 L259.77 387.58 L260.07 388.55 L260.36 389.15 L259.96 390.03 L260.54 390.80 L260.67 392.17 L260.62 392.90 L260.94 394.11 L260.67 394.90 L261.22 395.94 L261.01 396.25 L261.23 397.60 L261.89 398.29 L261.50 399.18 L262.12 399.97 L262.01 401.20 L262.18 401.77 L262.28 402.72 L262.67 404.03 L262.74 404.95 L262.70 406.01 L262.80 406.46 L262.92 407.94 L263.40 408.49 L263.47 409.76 L263.17 410.22 L263.92 411.13 L263.89 412.10 L264.05 413.12 L264.43 413.90 L264.06 415.17 L264.39 415.99 L264.55 416.98 L264.73 417.95 L264.61 418.75 L265.34 419.61 L265.01 420.74 L265.64 421.98 L265.82 422.43 L265.92 423.59 L265.78 424.39 L266.05 425.58 L266.37 425.98 L266.22 427.50 L266.68 427.86 L267.01 429.36 L266.93 429.83 L267.47 431.18 L267.43 431.59 L268.34 433.11 L268.55 433.59 L269.08 434.73 L269.19 435.79 L269.73 436.46 L270.23 437.80 L270.01 438.70 L270.63 439.32 L270.92 440.79 L271.29 441.50 L271.80 442.05 L272.47 443.07 L272.95 443.90 L274.05 444.71 L274.45 444.57 L275.67 445.00 L276.60 445.52 L277.45 446.11 L277.96 446.72 L278.92 446.72 L279.81 446.71 L280.65 446.99 L281.73 447.15 L283.08 447.69 L283.96 447.51 L284.60 447.84 L285.88 447.45 L286.67 448.16 L287.59 448.14 L288.17 447.82 L288.99 448.00 L289.89 447.98 L291.29 447.86 L291.65 448.57 L292.87 448.57 L293.36 448.26 L294.60 448.33 L295.50 448.53 L296.40 448.60 L297.30 448.72 L298.20 448.68 L299.10 448.38 L300.00 448.24 L300.92 448.61 L301.84 448.90 L302.76 448.93 L303.68 449.14 L304.61 449.10 L305.53 448.49 L306.45 448.57 L307.37 448.84 L308.29 449.11 L309.21 448.79 L310.13 448.64 L311.05 448.86 L311.97 448.79 L312.89 448.46 L313.82 448.77 L314.74 448.52 L315.66 448.76 L316.58 449.33 L317.50 448.52 L318.42 448.65 L319.34 448.70 L320.26 448.96 L321.18 448.53 L322.11 448.96 L323.03 448.72 L323.95 449.17 L324.87 448.81 L325.79 448.91 L326.71 448.58 L327.63 448.81 L328.55 449.49 L329.47 448.87 L330.39 448.82 L331.32 448.93 L332.24 448.69 L333.16 449.18 L334.08 449.23 L335.00 448.83" fill="none" stroke="#8e8e8e" stroke-width="1.05" stroke-linejoin="round" opacity="1.00"/>
<path d="M212.00 446.00 L212.62 445.86 L213.92 444.96 L214.20 444.71 L215.15 443.72 L215.62 443.60 L216.53 442.44 L217.23 441.81 L218.11 440.80 L219.24 441.16 L220.48 441.47 L221.82 441.55 L222.66 440.70 L223.67 440.69 L225.42 440.66 L225.79 439.90 L226.04 439.26 L226.19 438.05 L226.54 436.87 L226.78 436.36 L227.19 435.54 L226.94 434.25 L227.24 433.24 L227.51 432.60 L227.65 431.64 L228.36 430.43 L228.40 429.67 L228.42 428.55 L228.57 428.19 L228.96 426.58 L229.01 426.26 L229.70 425.29 L229.97 424.13 L229.86 423.54 L230.33 421.97 L230.69 421.65 L230.26 420.20 L230.81 419.49 L231.25 418.84 L231.51 417.93 L231.27 416.78 L231.48 416.06 L231.46 415.18 L232.23 414.04 L232.45 412.94 L232.49 412.36 L232.75 411.36 L232.39 410.79 L232.61 409.71 L233.05 408.52 L233.63 408.02 L233.72 406.59 L233.67 406.08 L234.13 405.22 L234.23 404.15 L234.14 402.82 L234.42 402.34 L234.53 401.07 L234.93 400.30 L235.10 398.83 L235.17 397.89 L235.38 397.51 L235.60 395.99 L235.68 395.66 L236.43 394.15 L236.52 393.73 L236.55 392.72 L236.71 391.44 L236.47 390.58 L237.08 389.74 L237.03 388.80 L237.58 387.40 L237.55 386.47 L237.53 385.57 L237.83 384.57 L237.64 384.08 L237.72 383.19 L237.98 381.59 L238.10 381.06 L238.31 380.07 L238.49 379.10 L238.46 377.87 L238.51 377.20 L238.60 375.86 L239.14 374.83 L239.05 374.47 L239.06 373.20 L239.17 372.47 L239.66 371.14 L239.54 370.51 L239.92 369.47 L239.99 368.41 L240.21 367.17 L239.98 366.87 L240.00 365.75 L240.46 365.02 L240.84 363.66 L240.75 362.57 L240.77 361.62 L240.79 361.09 L241.68 359.56 L241.75 358.89 L241.77 359.91 L242.36 360.96 L242.73 361.49 L243.23 362.67 L243.23 364.19 L243.77 365.23 L243.77 366.02 L244.33 367.02 L244.23 368.16 L244.83 368.94 L244.74 369.98 L244.78 370.94 L245.31 372.03 L245.38 372.99 L245.78 374.38 L245.77 375.42 L245.76 376.32 L246.49 377.24 L246.30 378.29 L246.67 379.12 L246.55 380.28 L247.23 381.59 L247.36 381.95 L247.08 383.40 L247.56 383.87 L247.78 385.30 L247.98 385.75 L247.62 386.55 L248.12 387.49 L248.32 388.87 L248.33 389.87 L248.42 390.35 L248.71 391.47 L248.70 392.57 L249.08 393.14 L249.32 394.50 L249.00 395.39 L249.48 395.92 L249.79 397.26 L249.32 398.00 L249.75 398.74 L249.70 399.57 L250.24 400.36 L249.95 401.44 L250.28 402.68 L250.19 403.76 L250.88 404.14 L250.70 405.26 L250.76 406.07 L251.05 407.08 L250.96 408.00 L251.31 409.02 L251.16 410.30 L251.68 410.81 L251.89 411.93 L252.01 412.73 L251.98 414.05 L252.14 414.81 L252.63 415.66 L252.31 416.94 L252.90 417.92 L252.86 418.34 L253.38 419.34 L253.48 420.65 L253.96 421.58 L254.13 422.48 L254.58 422.85 L254.85 423.68 L255.02 424.47 L255.29 425.58 L255.15 426.24 L255.97 427.74 L256.23 428.49 L256.44 429.43 L256.70 430.20 L256.73 431.15 L257.01 432.03 L257.35 433.54 L257.58 434.60 L257.75 435.57 L258.09 436.44 L258.16 437.04 L258.21 437.90 L258.57 439.47 L259.10 440.25 L259.67 440.80 L260.20 441.71 L260.44 443.15 L260.89 444.03 L261.60 444.36 L262.55 445.29 L262.99 445.90 L264.13 446.51 L265.34 446.35 L266.07 446.29 L267.04 446.71 L268.05 446.51 L269.34 446.67 L269.72 446.65 L271.14 447.06 L271.91 447.41 L272.76 447.06 L273.86 447.44 L274.78 447.23 L275.61 447.63 L276.77 447.34 L277.82 447.78 L278.33 447.47 L279.90 447.80 L280.31 447.76 L281.56 447.93 L282.68 448.37 L283.33 448.55 L284.43 448.63 L285.40 447.96 L286.31 447.96 L287.22 448.72 L288.14 448.21 L289.05 448.11 L289.96 448.75 L290.88 448.93 L291.79 448.63 L292.70 448.87 L293.61 448.95 L294.52 448.83 L295.44 448.90 L296.35 448.48 L297.26 449.01 L298.18 448.68 L299.09 449.25 L300.00 448.94 L300.92 448.64 L301.84 449.13 L302.76 448.92 L303.68 448.50 L304.61 448.47 L305.53 448.87 L306.45 448.76 L307.37 449.10 L308.29 448.82 L309.21 449.08 L310.13 448.83 L311.05 449.32 L311.97 449.31 L312.89 449.10 L313.82 449.30 L314.74 448.77 L315.66 449.07 L316.58 449.17 L317.50 449.21 L318.42 449.11 L319.34 449.03 L320.26 449.37 L321.18 449.29 L322.11 449.06 L323.03 448.85 L323.95 448.96 L324.87 448.97 L325.79 448.78 L326.71 448.85 L327.63 449.31 L328.55 449.38 L329.47 449.22 L330.39 448.94 L331.32 448.88 L332.24 449.52 L333.16 449.33 L334.08 449.49 L335.00 448.76" fill="none" stroke="#2a2a2a" stroke-width="1.05" stroke-linejoin="round" opacity="1.00"/>
<rect x="211.40" y="336.90" width="124.50" height="113.00" fill="none" stroke="#000" stroke-width="1.25"/>
<line x1="207.40" y1="449.90" x2="211.40" y2="449.90" stroke="#111" stroke-width="1.00"/>
<line x1="209.10" y1="445.38" x2="211.40" y2="445.38" stroke="#111" stroke-width="1.00"/>
<line x1="209.10" y1="440.86" x2="211.40" y2="440.86" stroke="#111" stroke-width="1.00"/>
<line x1="209.10" y1="436.34" x2="211.40" y2="436.34" stroke="#111" stroke-width="1.00"/>
<line x1="209.10" y1="431.82" x2="211.40" y2="431.82" stroke="#111" stroke-width="1.00"/>
<line x1="207.40" y1="427.30" x2="211.40" y2="427.30" stroke="#111" stroke-width="1.00"/>
<line x1="209.10" y1="422.78" x2="211.40" y2="422.78" stroke="#111" stroke-width="1.00"/>
<line x1="209.10" y1="418.26" x2="211.40" y2="418.26" stroke="#111" stroke-width="1.00"/>
<line x1="209.10" y1="413.74" x2="211.40" y2="413.74" stroke="#111" stroke-width="1.00"/>
<line x1="209.10" y1="409.22" x2="211.40" y2="409.22" stroke="#111" stroke-width="1.00"/>
<line x1="207.40" y1="404.70" x2="211.40" y2="404.70" stroke="#111" stroke-width="1.00"/>
<line x1="209.10" y1="400.18" x2="211.40" y2="400.18" stroke="#111" stroke-width="1.00"/>
<line x1="209.10" y1="395.66" x2="211.40" y2="395.66" stroke="#111" stroke-width="1.00"/>
<line x1="209.10" y1="391.14" x2="211.40" y2="391.14" stroke="#111" stroke-width="1.00"/>
<line x1="209.10" y1="386.62" x2="211.40" y2="386.62" stroke="#111" stroke-width="1.00"/>
<line x1="207.40" y1="382.10" x2="211.40" y2="382.10" stroke="#111" stroke-width="1.00"/>
<line x1="209.10" y1="377.58" x2="211.40" y2="377.58" stroke="#111" stroke-width="1.00"/>
<line x1="209.10" y1="373.06" x2="211.40" y2="373.06" stroke="#111" stroke-width="1.00"/>
<line x1="209.10" y1="368.54" x2="211.40" y2="368.54" stroke="#111" stroke-width="1.00"/>
<line x1="209.10" y1="364.02" x2="211.40" y2="364.02" stroke="#111" stroke-width="1.00"/>
<line x1="207.40" y1="359.50" x2="211.40" y2="359.50" stroke="#111" stroke-width="1.00"/>
<line x1="209.10" y1="354.98" x2="211.40" y2="354.98" stroke="#111" stroke-width="1.00"/>
<line x1="209.10" y1="350.46" x2="211.40" y2="350.46" stroke="#111" stroke-width="1.00"/>
<line x1="209.10" y1="345.94" x2="211.40" y2="345.94" stroke="#111" stroke-width="1.00"/>
<line x1="209.10" y1="341.42" x2="211.40" y2="341.42" stroke="#111" stroke-width="1.00"/>
<line x1="207.40" y1="336.90" x2="211.40" y2="336.90" stroke="#111" stroke-width="1.00"/>
<line x1="211.40" y1="449.90" x2="211.40" y2="453.90" stroke="#111" stroke-width="1.00"/>
<line x1="220.77" y1="449.90" x2="220.77" y2="452.20" stroke="#111" stroke-width="1.00"/>
<line x1="226.25" y1="449.90" x2="226.25" y2="452.20" stroke="#111" stroke-width="1.00"/>
<line x1="230.14" y1="449.90" x2="230.14" y2="452.20" stroke="#111" stroke-width="1.00"/>
<line x1="233.16" y1="449.90" x2="233.16" y2="452.20" stroke="#111" stroke-width="1.00"/>
<line x1="235.62" y1="449.90" x2="235.62" y2="452.20" stroke="#111" stroke-width="1.00"/>
<line x1="237.70" y1="449.90" x2="237.70" y2="452.20" stroke="#111" stroke-width="1.00"/>
<line x1="239.51" y1="449.90" x2="239.51" y2="452.20" stroke="#111" stroke-width="1.00"/>
<line x1="241.10" y1="449.90" x2="241.10" y2="452.20" stroke="#111" stroke-width="1.00"/>
<line x1="242.53" y1="449.90" x2="242.53" y2="453.90" stroke="#111" stroke-width="1.00"/>
<line x1="251.89" y1="449.90" x2="251.89" y2="452.20" stroke="#111" stroke-width="1.00"/>
<line x1="257.38" y1="449.90" x2="257.38" y2="452.20" stroke="#111" stroke-width="1.00"/>
<line x1="261.26" y1="449.90" x2="261.26" y2="452.20" stroke="#111" stroke-width="1.00"/>
<line x1="264.28" y1="449.90" x2="264.28" y2="452.20" stroke="#111" stroke-width="1.00"/>
<line x1="266.74" y1="449.90" x2="266.74" y2="452.20" stroke="#111" stroke-width="1.00"/>
<line x1="268.83" y1="449.90" x2="268.83" y2="452.20" stroke="#111" stroke-width="1.00"/>
<line x1="270.63" y1="449.90" x2="270.63" y2="452.20" stroke="#111" stroke-width="1.00"/>
<line x1="272.23" y1="449.90" x2="272.23" y2="452.20" stroke="#111" stroke-width="1.00"/>
<line x1="273.65" y1="449.90" x2="273.65" y2="453.90" stroke="#111" stroke-width="1.00"/>
<line x1="283.02" y1="449.90" x2="283.02" y2="452.20" stroke="#111" stroke-width="1.00"/>
<line x1="288.50" y1="449.90" x2="288.50" y2="452.20" stroke="#111" stroke-width="1.00"/>
<line x1="292.39" y1="449.90" x2="292.39" y2="452.20" stroke="#111" stroke-width="1.00"/>
<line x1="295.41" y1="449.90" x2="295.41" y2="452.20" stroke="#111" stroke-width="1.00"/>
<line x1="297.87" y1="449.90" x2="297.87" y2="452.20" stroke="#111" stroke-width="1.00"/>
<line x1="299.95" y1="449.90" x2="299.95" y2="452.20" stroke="#111" stroke-width="1.00"/>
<line x1="301.76" y1="449.90" x2="301.76" y2="452.20" stroke="#111" stroke-width="1.00"/>
<line x1="303.35" y1="449.90" x2="303.35" y2="452.20" stroke="#111" stroke-width="1.00"/>
<line x1="304.77" y1="449.90" x2="304.77" y2="453.90" stroke="#111" stroke-width="1.00"/>
<line x1="314.14" y1="449.90" x2="314.14" y2="452.20" stroke="#111" stroke-width="1.00"/>
<line x1="319.63" y1="449.90" x2="319.63" y2="452.20" stroke="#111" stroke-width="1.00"/>
<line x1="323.51" y1="449.90" x2="323.51" y2="452.20" stroke="#111" stroke-width="1.00"/>
<line x1="326.53" y1="449.90" x2="326.53" y2="452.20" stroke="#111" stroke-width="1.00"/>
<line x1="328.99" y1="449.90" x2="328.99" y2="452.20" stroke="#111" stroke-width="1.00"/>
<line x1="331.08" y1="449.90" x2="331.08" y2="452.20" stroke="#111" stroke-width="1.00"/>
<line x1="332.88" y1="449.90" x2="332.88" y2="452.20" stroke="#111" stroke-width="1.00"/>
<line x1="334.48" y1="449.90" x2="334.48" y2="452.20" stroke="#111" stroke-width="1.00"/>
<line x1="335.90" y1="449.90" x2="335.90" y2="453.90" stroke="#111" stroke-width="1.00"/>
<text transform="translate(204.76 453.51) rotate(-90) scale(1.0000 1)" font-size="11.20" font-weight="normal" fill="#000">0</text>
<text transform="translate(204.76 434.09) rotate(-90) scale(1.0000 1)" font-size="11.20" font-weight="normal" fill="#000">20</text>
<text transform="translate(204.76 411.34) rotate(-90) scale(1.0000 1)" font-size="11.20" font-weight="normal" fill="#000">40</text>
<text transform="translate(204.76 388.89) rotate(-90) scale(1.0000 1)" font-size="11.20" font-weight="normal" fill="#000">60</text>
<text transform="translate(204.76 366.25) rotate(-90) scale(1.0000 1)" font-size="11.20" font-weight="normal" fill="#000">80</text>
<text transform="translate(204.76 346.95) rotate(-90) scale(1.0000 1)" font-size="11.20" font-weight="normal" fill="#000">100</text>
<text x="202.34" y="465.10" font-size="10.40">10</text>
<text x="214.40" y="458.10" font-size="7.20">0</text>
<text x="233.46" y="465.10" font-size="10.40">10</text>
<text x="245.53" y="458.10" font-size="7.20">1</text>
<text x="264.59" y="465.10" font-size="10.40">10</text>
<text x="276.65" y="458.10" font-size="7.20">2</text>
<text x="295.71" y="465.10" font-size="10.40">10</text>
<text x="307.77" y="458.10" font-size="7.20">3</text>
<text x="326.84" y="465.10" font-size="10.40">10</text>
<text x="338.90" y="458.10" font-size="7.20">4</text>
<text transform="translate(189.69 412.49) rotate(-90) scale(0.9975 1)" font-size="11.58" font-weight="normal" fill="#000">Counts</text>
<text transform="translate(244.08 483.10) scale(1.1550 1)" font-size="9.66" font-weight="normal" fill="#000">FL1-Height</text>
<text transform="translate(282.45 352.50) scale(1.0180 1)" font-size="13.95" font-weight="bold" fill="#000">MALT1</text>
<path d="M388.80 445.50 L388.76 445.03 L389.21 444.36 L389.99 444.04 L390.52 443.00 L391.27 442.50 L391.98 441.81 L392.87 441.58 L393.69 440.67 L394.51 440.50 L395.40 439.86 L396.44 439.68 L397.94 439.86 L398.72 439.94 L399.33 440.55 L400.75 440.51 L401.27 440.71 L402.33 440.99 L403.26 441.26 L404.56 440.95 L405.48 441.03 L406.08 440.83 L407.65 440.69 L407.93 439.69 L409.04 438.88 L409.65 438.38 L410.20 437.36 L411.10 436.51 L412.09 435.58 L412.54 435.16 L413.10 434.26 L413.66 433.74 L414.14 432.44 L414.35 431.62 L414.70 431.05 L415.39 429.77 L415.15 428.60 L415.61 427.93 L415.99 426.57 L416.56 425.78 L416.52 424.91 L416.79 423.98 L416.75 423.25 L417.32 422.05 L417.21 421.20 L417.75 420.01 L417.42 418.90 L418.05 418.26 L418.25 417.15 L417.93 415.88 L418.57 415.54 L418.20 414.62 L418.60 413.30 L419.01 412.72 L418.79 411.84 L419.28 410.70 L419.50 409.88 L419.10 409.40 L419.52 408.52 L419.67 407.04 L420.10 406.27 L420.29 405.41 L420.15 404.81 L420.05 403.46 L420.60 403.02 L420.39 402.28 L420.78 401.34 L420.98 399.88 L420.91 399.58 L421.02 398.32 L421.42 397.13 L421.74 396.45 L421.50 395.34 L422.08 394.48 L422.15 393.98 L422.45 393.14 L422.97 391.80 L423.71 391.00 L423.53 389.78 L423.90 388.78 L424.05 387.93 L424.06 387.16 L424.58 386.20 L424.49 385.39 L424.57 384.84 L424.95 383.45 L425.01 382.56 L425.34 382.13 L425.54 380.96 L425.65 380.38 L425.56 379.32 L426.30 378.69 L426.00 377.76 L426.21 376.60 L426.80 376.02 L426.45 375.00 L426.75 374.24 L427.11 372.82 L426.78 371.85 L426.93 371.24 L427.17 370.55 L427.25 369.67 L427.69 368.82 L427.62 367.62 L427.94 366.50 L427.93 365.76 L428.52 365.07 L428.65 363.61 L428.36 362.98 L429.21 363.85 L429.72 364.93 L430.29 366.02 L430.63 366.81 L431.24 365.64 L431.35 364.58 L432.00 363.54 L432.29 362.71 L432.77 363.56 L433.28 365.05 L433.55 365.75 L433.73 366.46 L433.46 367.35 L433.58 368.38 L434.16 369.40 L434.39 370.20 L434.98 371.29 L434.72 372.78 L435.49 373.32 L435.17 374.20 L435.59 375.09 L436.03 376.27 L436.23 377.24 L436.73 378.40 L436.31 379.13 L436.99 379.98 L437.12 381.27 L437.02 382.15 L437.15 383.12 L437.20 383.79 L437.93 384.93 L438.09 386.38 L437.91 387.06 L438.33 388.09 L438.80 388.74 L438.86 389.82 L438.87 390.92 L438.89 391.79 L439.03 392.62 L439.02 393.29 L439.11 394.15 L439.72 395.49 L439.64 396.01 L439.83 397.03 L440.32 397.78 L440.11 398.94 L440.47 399.48 L440.38 400.40 L440.77 401.25 L440.46 402.03 L441.07 403.25 L441.15 404.50 L441.00 404.96 L441.53 406.14 L441.23 406.54 L441.63 408.06 L442.03 408.65 L442.08 409.73 L442.25 410.55 L441.98 411.51 L442.30 412.22 L442.16 413.32 L442.68 413.76 L443.11 414.68 L442.99 416.05 L442.87 416.93 L443.51 417.75 L443.47 418.52 L443.82 419.73 L443.84 420.62 L443.59 421.09 L444.13 422.03 L444.19 422.99 L444.67 424.03 L444.34 424.48 L444.82 425.77 L444.45 426.28 L444.87 427.21 L444.99 428.66 L445.37 428.97 L445.38 429.79 L445.34 431.25 L445.65 432.04 L445.75 433.08 L446.08 433.37 L446.43 434.78 L446.19 435.90 L446.88 436.76 L447.05 437.79 L447.24 438.39 L447.97 439.44 L448.14 440.56 L448.84 440.80 L449.77 442.02 L450.27 442.66 L451.08 443.02 L452.24 443.56 L453.06 443.98 L453.75 444.09 L454.99 443.96 L455.72 444.12 L456.78 444.41 L457.89 444.72 L459.06 445.11 L459.61 444.98 L460.80 444.71 L461.91 444.88 L462.84 445.48 L463.57 445.53 L464.51 445.56 L465.69 445.48 L466.26 445.68 L467.56 445.17 L468.30 445.48 L468.84 445.33 L470.19 445.60 L470.63 445.44 L471.74 445.96 L472.87 445.54 L473.94 445.86 L474.31 446.09 L475.39 446.04 L476.53 446.13 L477.43 445.69 L477.93 445.87 L478.85 446.31 L480.14 445.75 L481.02 446.17 L482.09 445.94 L482.42 446.32 L483.69 446.30 L484.24 446.30 L485.39 446.44 L486.56 446.55 L487.05 446.16 L488.13 446.52 L489.24 446.40 L490.29 446.45 L490.57 446.42 L491.85 446.75 L492.75 446.46 L493.67 446.66 L494.58 446.42 L495.50 446.19 L496.42 447.04 L497.33 447.10 L498.25 447.02 L499.17 447.01 L500.08 446.56 L501.00 447.25 L501.92 446.46 L502.83 446.74 L503.75 446.95 L504.67 447.23 L505.58 447.43 L506.50 447.47 L507.42 447.38 L508.33 447.18 L509.25 446.88 L510.17 447.55 L511.08 447.04 L512.00 447.50" fill="none" stroke="#8e8e8e" stroke-width="1.05" stroke-linejoin="round" opacity="1.00"/>
<path d="M388.80 444.80 L388.94 444.45 L389.74 443.84 L390.13 442.52 L390.66 442.13 L391.50 441.40 L392.14 440.28 L392.11 439.73 L392.15 438.46 L392.85 437.91 L392.92 437.21 L393.61 436.33 L394.03 435.05 L394.07 434.69 L394.70 433.21 L394.67 433.03 L394.69 432.03 L394.85 430.54 L395.60 430.05 L395.96 428.97 L396.06 427.75 L395.87 426.57 L396.13 425.86 L396.62 424.86 L396.61 424.11 L397.51 423.05 L397.32 422.10 L397.63 421.19 L397.96 419.82 L398.15 418.87 L398.31 417.86 L398.35 417.27 L398.45 416.18 L399.24 415.03 L398.84 414.73 L398.87 413.66 L399.34 412.70 L399.40 411.61 L399.41 411.00 L400.05 410.19 L399.76 409.02 L400.17 408.41 L400.57 407.28 L400.25 406.13 L400.27 405.23 L400.44 404.46 L400.77 403.71 L401.13 402.55 L401.44 401.98 L401.44 400.91 L401.51 400.42 L401.84 399.22 L401.47 398.22 L401.71 397.09 L401.90 396.36 L402.18 395.77 L402.70 394.35 L402.59 393.48 L402.39 393.11 L402.69 392.02 L402.63 391.18 L402.75 390.33 L403.47 389.50 L403.61 388.10 L403.34 387.67 L403.31 386.22 L403.51 385.59 L403.43 385.06 L403.84 383.96 L403.94 383.02 L404.33 381.98 L404.28 380.98 L404.72 380.03 L404.76 379.32 L404.46 378.63 L404.97 377.58 L404.77 376.79 L405.20 375.98 L404.98 374.47 L405.10 374.21 L405.55 373.08 L405.40 372.16 L405.58 370.93 L406.06 370.45 L405.73 369.44 L406.44 368.56 L406.40 367.73 L406.41 366.49 L406.62 365.93 L406.96 364.81 L407.33 363.93 L407.82 362.50 L407.82 362.03 L408.14 360.55 L409.16 360.50 L410.36 360.12 L411.04 360.21 L412.01 360.55 L412.23 362.02 L412.62 362.46 L413.21 363.54 L413.27 364.69 L413.13 365.54 L413.93 366.81 L414.24 367.92 L414.10 368.88 L414.35 369.16 L414.32 370.63 L414.80 371.23 L415.01 372.35 L414.53 373.09 L415.15 373.72 L414.97 374.65 L414.96 375.82 L415.57 377.09 L415.32 377.49 L415.65 378.24 L415.47 379.28 L416.09 380.55 L415.89 381.41 L415.95 382.10 L416.47 383.46 L416.17 384.20 L416.37 385.06 L416.27 385.80 L416.45 386.47 L416.73 387.74 L416.60 388.76 L416.67 389.25 L417.05 390.20 L416.96 391.54 L417.34 392.09 L417.14 392.90 L417.73 393.87 L417.96 394.62 L417.87 395.95 L417.70 396.49 L417.83 397.53 L418.02 398.37 L418.54 399.88 L418.50 400.26 L418.32 401.39 L418.59 402.18 L418.93 403.03 L419.04 403.83 L418.68 405.38 L419.20 405.76 L419.33 406.62 L419.48 407.68 L419.19 408.73 L419.59 409.92 L419.80 410.39 L420.05 411.44 L420.07 412.46 L420.05 413.02 L420.17 414.59 L420.34 414.89 L420.71 416.25 L420.18 417.10 L420.80 418.29 L420.55 419.05 L421.19 419.88 L420.66 420.79 L420.84 421.49 L421.05 422.53 L421.29 423.81 L421.22 424.84 L421.64 425.73 L421.79 426.73 L422.05 427.83 L422.12 428.26 L422.51 428.98 L422.73 430.52 L422.75 430.91 L423.45 432.30 L423.26 433.16 L423.87 433.81 L424.46 434.83 L424.36 435.40 L424.42 436.29 L425.07 437.16 L425.68 438.36 L426.41 438.78 L426.90 439.91 L427.50 440.62 L428.61 440.79 L429.52 441.56 L430.21 442.42 L430.43 442.68 L431.80 443.25 L432.75 443.82 L433.65 443.63 L434.18 444.31 L435.40 444.14 L436.49 444.10 L437.34 443.40 L438.56 442.91 L439.51 442.34 L439.87 443.18 L440.82 443.19 L441.88 443.74 L442.33 444.24 L443.34 444.85 L444.00 444.80 L445.05 445.22 L446.43 445.29 L446.84 444.96 L447.75 445.02 L449.00 445.26 L450.20 445.15 L451.10 445.16 L451.64 445.25 L452.51 445.35 L453.42 445.16 L454.19 445.29 L455.16 445.34 L456.13 445.44 L457.44 445.66 L458.43 445.81 L458.88 445.37 L459.97 445.61 L460.69 445.62 L461.67 445.80 L462.74 445.69 L463.34 445.69 L464.26 445.83 L465.14 446.26 L466.53 446.02 L467.24 446.00 L467.83 446.18 L468.98 446.14 L470.02 445.92 L471.09 446.01 L472.02 445.98 L472.36 446.18 L473.42 445.93 L474.37 446.03 L475.44 446.55 L476.53 446.41 L477.07 446.37 L478.32 446.63 L478.94 446.59 L479.84 446.72 L480.96 446.56 L481.82 446.74 L482.71 446.41 L483.61 446.25 L484.54 446.18 L485.45 446.50 L486.36 446.56 L487.27 446.43 L488.18 446.51 L489.09 446.60 L490.00 446.94 L490.92 446.44 L491.83 446.34 L492.75 446.65 L493.67 446.51 L494.58 446.55 L495.50 446.59 L496.42 447.08 L497.33 447.17 L498.25 447.07 L499.17 447.24 L500.08 447.34 L501.00 447.03 L501.92 447.01 L502.83 447.48 L503.75 447.11 L504.67 446.98 L505.58 447.35 L506.50 447.18 L507.42 446.85 L508.33 446.87 L509.25 447.56 L510.17 447.73 L511.08 447.54 L512.00 447.06" fill="none" stroke="#2a2a2a" stroke-width="1.05" stroke-linejoin="round" opacity="1.00"/>
<rect x="388.10" y="334.70" width="124.80" height="113.40" fill="none" stroke="#000" stroke-width="1.25"/>
<line x1="384.10" y1="448.10" x2="388.10" y2="448.10" stroke="#111" stroke-width="1.00"/>
<line x1="385.80" y1="443.56" x2="388.10" y2="443.56" stroke="#111" stroke-width="1.00"/>
<line x1="385.80" y1="439.03" x2="388.10" y2="439.03" stroke="#111" stroke-width="1.00"/>
<line x1="385.80" y1="434.49" x2="388.10" y2="434.49" stroke="#111" stroke-width="1.00"/>
<line x1="385.80" y1="429.96" x2="388.10" y2="429.96" stroke="#111" stroke-width="1.00"/>
<line x1="384.10" y1="425.42" x2="388.10" y2="425.42" stroke="#111" stroke-width="1.00"/>
<line x1="385.80" y1="420.88" x2="388.10" y2="420.88" stroke="#111" stroke-width="1.00"/>
<line x1="385.80" y1="416.35" x2="388.10" y2="416.35" stroke="#111" stroke-width="1.00"/>
<line x1="385.80" y1="411.81" x2="388.10" y2="411.81" stroke="#111" stroke-width="1.00"/>
<line x1="385.80" y1="407.28" x2="388.10" y2="407.28" stroke="#111" stroke-width="1.00"/>
<line x1="384.10" y1="402.74" x2="388.10" y2="402.74" stroke="#111" stroke-width="1.00"/>
<line x1="385.80" y1="398.20" x2="388.10" y2="398.20" stroke="#111" stroke-width="1.00"/>
<line x1="385.80" y1="393.67" x2="388.10" y2="393.67" stroke="#111" stroke-width="1.00"/>
<line x1="385.80" y1="389.13" x2="388.10" y2="389.13" stroke="#111" stroke-width="1.00"/>
<line x1="385.80" y1="384.60" x2="388.10" y2="384.60" stroke="#111" stroke-width="1.00"/>
<line x1="384.10" y1="380.06" x2="388.10" y2="380.06" stroke="#111" stroke-width="1.00"/>
<line x1="385.80" y1="375.52" x2="388.10" y2="375.52" stroke="#111" stroke-width="1.00"/>
<line x1="385.80" y1="370.99" x2="388.10" y2="370.99" stroke="#111" stroke-width="1.00"/>
<line x1="385.80" y1="366.45" x2="388.10" y2="366.45" stroke="#111" stroke-width="1.00"/>
<line x1="385.80" y1="361.92" x2="388.10" y2="361.92" stroke="#111" stroke-width="1.00"/>
<line x1="384.10" y1="357.38" x2="388.10" y2="357.38" stroke="#111" stroke-width="1.00"/>
<line x1="385.80" y1="352.84" x2="388.10" y2="352.84" stroke="#111" stroke-width="1.00"/>
<line x1="385.80" y1="348.31" x2="388.10" y2="348.31" stroke="#111" stroke-width="1.00"/>
<line x1="385.80" y1="343.77" x2="388.10" y2="343.77" stroke="#111" stroke-width="1.00"/>
<line x1="385.80" y1="339.24" x2="388.10" y2="339.24" stroke="#111" stroke-width="1.00"/>
<line x1="384.10" y1="334.70" x2="388.10" y2="334.70" stroke="#111" stroke-width="1.00"/>
<line x1="388.10" y1="448.10" x2="388.10" y2="452.10" stroke="#111" stroke-width="1.00"/>
<line x1="397.49" y1="448.10" x2="397.49" y2="450.40" stroke="#111" stroke-width="1.00"/>
<line x1="402.99" y1="448.10" x2="402.99" y2="450.40" stroke="#111" stroke-width="1.00"/>
<line x1="406.88" y1="448.10" x2="406.88" y2="450.40" stroke="#111" stroke-width="1.00"/>
<line x1="409.91" y1="448.10" x2="409.91" y2="450.40" stroke="#111" stroke-width="1.00"/>
<line x1="412.38" y1="448.10" x2="412.38" y2="450.40" stroke="#111" stroke-width="1.00"/>
<line x1="414.47" y1="448.10" x2="414.47" y2="450.40" stroke="#111" stroke-width="1.00"/>
<line x1="416.28" y1="448.10" x2="416.28" y2="450.40" stroke="#111" stroke-width="1.00"/>
<line x1="417.87" y1="448.10" x2="417.87" y2="450.40" stroke="#111" stroke-width="1.00"/>
<line x1="419.30" y1="448.10" x2="419.30" y2="452.10" stroke="#111" stroke-width="1.00"/>
<line x1="428.69" y1="448.10" x2="428.69" y2="450.40" stroke="#111" stroke-width="1.00"/>
<line x1="434.19" y1="448.10" x2="434.19" y2="450.40" stroke="#111" stroke-width="1.00"/>
<line x1="438.08" y1="448.10" x2="438.08" y2="450.40" stroke="#111" stroke-width="1.00"/>
<line x1="441.11" y1="448.10" x2="441.11" y2="450.40" stroke="#111" stroke-width="1.00"/>
<line x1="443.58" y1="448.10" x2="443.58" y2="450.40" stroke="#111" stroke-width="1.00"/>
<line x1="445.67" y1="448.10" x2="445.67" y2="450.40" stroke="#111" stroke-width="1.00"/>
<line x1="447.48" y1="448.10" x2="447.48" y2="450.40" stroke="#111" stroke-width="1.00"/>
<line x1="449.07" y1="448.10" x2="449.07" y2="450.40" stroke="#111" stroke-width="1.00"/>
<line x1="450.50" y1="448.10" x2="450.50" y2="452.10" stroke="#111" stroke-width="1.00"/>
<line x1="459.89" y1="448.10" x2="459.89" y2="450.40" stroke="#111" stroke-width="1.00"/>
<line x1="465.39" y1="448.10" x2="465.39" y2="450.40" stroke="#111" stroke-width="1.00"/>
<line x1="469.28" y1="448.10" x2="469.28" y2="450.40" stroke="#111" stroke-width="1.00"/>
<line x1="472.31" y1="448.10" x2="472.31" y2="450.40" stroke="#111" stroke-width="1.00"/>
<line x1="474.78" y1="448.10" x2="474.78" y2="450.40" stroke="#111" stroke-width="1.00"/>
<line x1="476.87" y1="448.10" x2="476.87" y2="450.40" stroke="#111" stroke-width="1.00"/>
<line x1="478.68" y1="448.10" x2="478.68" y2="450.40" stroke="#111" stroke-width="1.00"/>
<line x1="480.27" y1="448.10" x2="480.27" y2="450.40" stroke="#111" stroke-width="1.00"/>
<line x1="481.70" y1="448.10" x2="481.70" y2="452.10" stroke="#111" stroke-width="1.00"/>
<line x1="491.09" y1="448.10" x2="491.09" y2="450.40" stroke="#111" stroke-width="1.00"/>
<line x1="496.59" y1="448.10" x2="496.59" y2="450.40" stroke="#111" stroke-width="1.00"/>
<line x1="500.48" y1="448.10" x2="500.48" y2="450.40" stroke="#111" stroke-width="1.00"/>
<line x1="503.51" y1="448.10" x2="503.51" y2="450.40" stroke="#111" stroke-width="1.00"/>
<line x1="505.98" y1="448.10" x2="505.98" y2="450.40" stroke="#111" stroke-width="1.00"/>
<line x1="508.07" y1="448.10" x2="508.07" y2="450.40" stroke="#111" stroke-width="1.00"/>
<line x1="509.88" y1="448.10" x2="509.88" y2="450.40" stroke="#111" stroke-width="1.00"/>
<line x1="511.47" y1="448.10" x2="511.47" y2="450.40" stroke="#111" stroke-width="1.00"/>
<line x1="512.90" y1="448.10" x2="512.90" y2="452.10" stroke="#111" stroke-width="1.00"/>
<text transform="translate(380.86 451.71) rotate(-90) scale(1.0000 1)" font-size="11.20" font-weight="normal" fill="#000">0</text>
<text transform="translate(380.86 432.21) rotate(-90) scale(1.0000 1)" font-size="11.20" font-weight="normal" fill="#000">20</text>
<text transform="translate(380.86 409.38) rotate(-90) scale(1.0000 1)" font-size="11.20" font-weight="normal" fill="#000">40</text>
<text transform="translate(380.86 386.85) rotate(-90) scale(1.0000 1)" font-size="11.20" font-weight="normal" fill="#000">60</text>
<text transform="translate(380.86 364.13) rotate(-90) scale(1.0000 1)" font-size="11.20" font-weight="normal" fill="#000">80</text>
<text transform="translate(380.86 344.75) rotate(-90) scale(1.0000 1)" font-size="11.20" font-weight="normal" fill="#000">100</text>
<text x="379.04" y="463.30" font-size="10.40">10</text>
<text x="391.10" y="456.30" font-size="7.20">0</text>
<text x="410.24" y="463.30" font-size="10.40">10</text>
<text x="422.30" y="456.30" font-size="7.20">1</text>
<text x="441.44" y="463.30" font-size="10.40">10</text>
<text x="453.50" y="456.30" font-size="7.20">2</text>
<text x="472.64" y="463.30" font-size="10.40">10</text>
<text x="484.70" y="456.30" font-size="7.20">3</text>
<text x="503.84" y="463.30" font-size="10.40">10</text>
<text x="515.90" y="456.30" font-size="7.20">4</text>
<text transform="translate(365.89 410.89) rotate(-90) scale(1.0354 1)" font-size="11.16" font-weight="normal" fill="#000">Counts</text>
<text transform="translate(421.08 480.70) scale(1.1292 1)" font-size="9.94" font-weight="normal" fill="#000">FL1-Height</text>
<text transform="translate(423.35 352.20) scale(1.0478 1)" font-size="13.61" font-weight="bold" fill="#000">API2-MALT1</text>
<text transform="translate(-0.89 323.80) scale(0.9880 1)" font-size="25.58" font-weight="bold" fill="#000">D</text>
</svg>
</body></html>
